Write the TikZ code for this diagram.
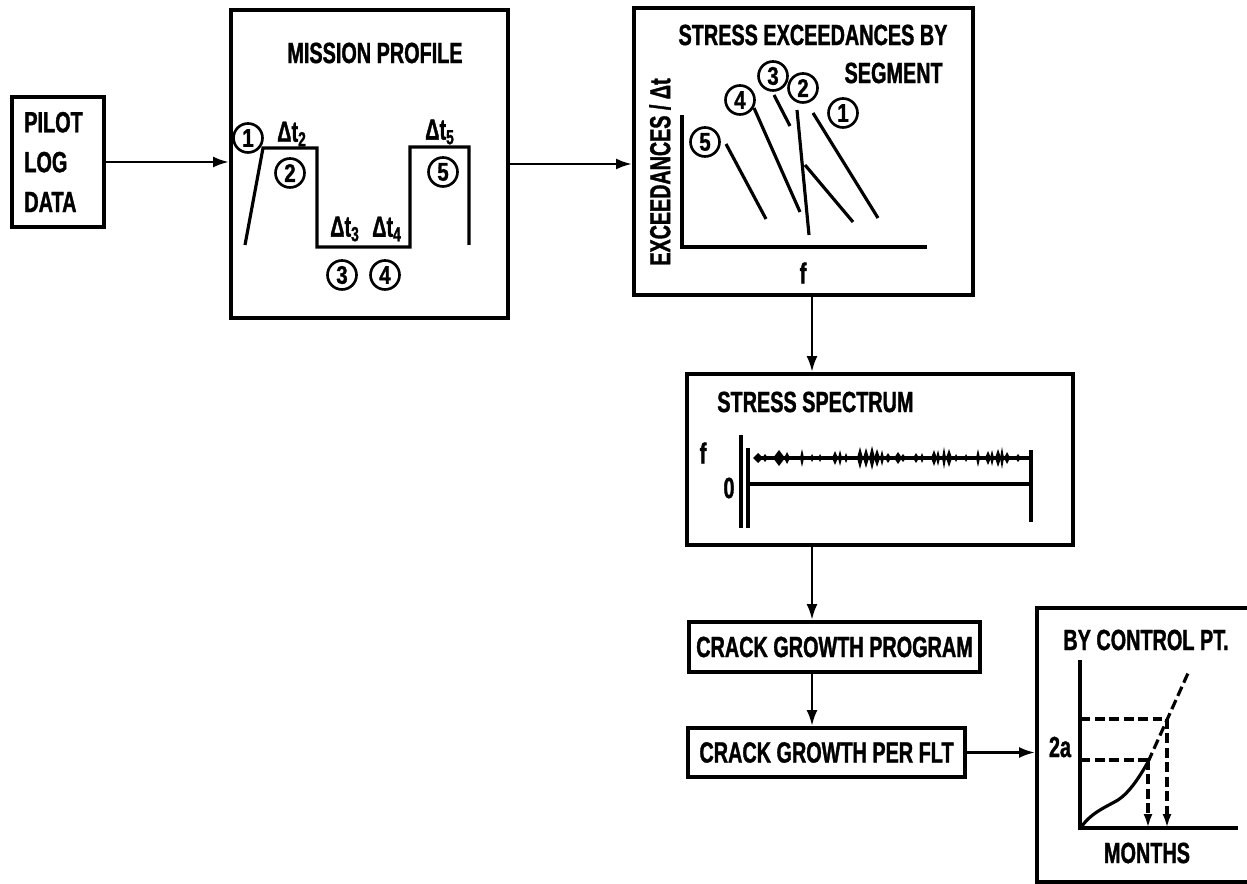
\documentclass[tikz,border=0pt]{standalone}
\usepackage{fontspec}
\setmainfont{Liberation Sans}[FakeStretch=0.68, BoldFeatures={FakeBold=1.2}]
\newfontfamily\numfont{Liberation Sans}[FakeStretch=0.8, BoldFeatures={FakeBold=1.2}]
\usetikzlibrary{arrows.meta,calc}
\begin{document}
\begin{tikzpicture}[x=0.02cm,y=-0.02cm,
  box/.style={draw, line width=2.2pt, inner sep=0pt},
  lbl/.style={font=\fontsize{16.6}{20}\selectfont\bfseries, inner sep=0pt},
  num/.style={draw, circle, line width=1.5pt, minimum size=0.58cm, inner sep=0pt, font=\numfont\fontsize{14.5}{16}\selectfont\bfseries},
  arr/.style={line width=1.6pt, -{Latex[length=0.32cm,width=0.22cm]}},
  crv/.style={line width=1.8pt},
  dsh/.style={line width=1.8pt, dash pattern=on 0.2cm off 0.09cm},
]
\useasboundingbox (0,0) rectangle (1247,884);

% ---------- boxes ----------
\node[box, minimum width=1.84cm, minimum height=2.6cm] (pilot) at (58,162) {};
\node[box, minimum width=5.54cm, minimum height=6.16cm] (mp) at (369.5,164) {};
\node[box, minimum width=6.78cm, minimum height=5.74cm] (se) at (803.5,151.5) {};
\node[box, minimum width=7.72cm, minimum height=3.42cm] (ss) at (880,459.5) {};
\node[box, minimum width=5.82cm, minimum height=1.0cm, lbl] (cgp) at (834.5,647) {CRACK GROWTH PROGRAM};
\node[box, minimum width=5.54cm, minimum height=0.98cm, lbl] (flt) at (826.5,752.5) {CRACK GROWTH PER FLT};
\node[box, minimum width=4.3cm, minimum height=5.48cm] (cp) at (1144.5,745) {};

% ---------- connectors ----------
\coordinate (ax) at (812,0);
\draw[arr] (pilot.east) -- (pilot.east -| mp.west);
\draw[arr] (mp.east) -- (mp.east -| se.west);
\draw[arr] (ax |- se.south) -- (ax |- ss.north);
\draw[arr] (ax |- ss.south) -- (ax |- cgp.north);
\draw[arr] (ax |- cgp.south) -- (ax |- flt.north);
\draw[arr] (flt.east) -- (flt.east -| cp.west);

% ---------- pilot ----------
\node[lbl, anchor=west, align=left, font=\fontsize{16.6}{22.7}\selectfont\bfseries] (pilottxt) at (24,162) {PILOT\\LOG\\DATA};

% ---------- mission profile ----------
\node[lbl] (mptitle) at (375,53) {MISSION PROFILE};
\draw[crv] (245,245) -- (263,148) -- (317,148) -- (317,247) -- (410,247) -- (410,147) -- (469,147) -- (469,245);
\node[num] (m1) at (248,138) {1};
\node[num] (m2) at (290,173) {2};
\node[num] (m3) at (342,275) {3};
\node[num] (m4) at (385,275) {4};
\node[num] (m5) at (443,172) {5};
\node[lbl] (dt2) at (292,134) {Δt\textsubscript{2}};
\node[lbl] (dt3) at (345,229) {Δt\textsubscript{3}};
\node[lbl] (dt4) at (387,229) {Δt\textsubscript{4}};
\node[lbl] (dt5) at (440,132) {Δt\textsubscript{5}};

% ---------- stress exceedances ----------
\node[lbl] (setitle1) at (813,35) {STRESS EXCEEDANCES BY};
\node[lbl, anchor=east] (setitle2) at (943,73) {SEGMENT};
\node[lbl, rotate=90, font=\fontsize{16.5}{18}\selectfont\bfseries] (yl) at (660,172) {EXCEEDANCES / Δt};
\node[lbl] (fl) at (803,273) {f};
\draw[crv] (682,115) -- (682,247) -- (927,247);
\draw[crv] (726,144) -- (766,219);
\draw[crv] (754,108) -- (800,212);
\draw[crv] (774,95) -- (790,126);
\draw[crv] (797,110) -- (809,235);
\draw[crv] (805,165) -- (853,222);
\draw[crv] (813,113) -- (878,218);
\node[num] (s5) at (705,142) {5};
\node[num] (s4) at (740,100) {4};
\node[num] (s3) at (773,76) {3};
\node[num] (s2) at (803,88) {2};
\node[num] (s1) at (843,113) {1};

% ---------- stress spectrum ----------
\node[lbl, anchor=west] (sstitle) at (717,402) {STRESS SPECTRUM};
\node[lbl] (sf) at (703,453) {f};
\node[lbl] (s0) at (729,488) {0};
\draw[crv] (741,435) -- (741,528);
\draw[crv] (748,448) -- (748,528);
\draw[crv] (748,484) -- (1031,484);
\draw[crv] (1031,450) -- (1031,522);
\draw[line width=2.2pt] (755,458) -- (1029,458);
\foreach \cx/\h/\w in {758/5/5, 765/4/3, 779/8/6, 787/6/3, 802/9/2, 812/4/2, 820/4/2, 835/7/3, 840/8/2, 846/5/2, 860/11/3, 866/10/3, 872/12/3, 877/9/3, 882/8/2, 888/5/3, 898/6/4, 903/4/3, 916/5/3, 922/5/2, 934/8/3, 938/8/2, 944/11/2, 949/9/3, 956/4/2, 966/4/2, 978/9/2, 988/7/3, 992/8/2, 998/9/3, 1002/11/2, 1007/6/3, 1018/4/3}
  \fill (\cx-\w,458) -- (\cx,458-\h) -- (\cx+\w,458) -- (\cx,458+\h) -- cycle;

% ---------- by control pt ----------
\node[lbl] (cptitle) at (1146,640) {BY CONTROL PT.};
\node[lbl] (twoa) at (1060,747) {2a};
\node[lbl] (months) at (1147,853) {MONTHS};
\draw[crv] (1080,660) -- (1080,828) -- (1238,828);
\draw[dsh] (1080,719) -- (1167,719);
\draw[dsh] (1080,760) -- (1148,760);
\draw[dsh, -{Latex[length=0.28cm,width=0.18cm]}] (1148,760) -- (1148,828);
\draw[dsh, -{Latex[length=0.28cm,width=0.18cm]}] (1167,719) -- (1167,828);
\draw[crv] (1082,826) .. controls (1092,812) and (1108,806) .. (1118,800) .. controls (1130,792) and (1140,776) .. (1148,762);
\draw[dsh] (1148,762) -- (1189,671);
\end{tikzpicture}
\end{document}
